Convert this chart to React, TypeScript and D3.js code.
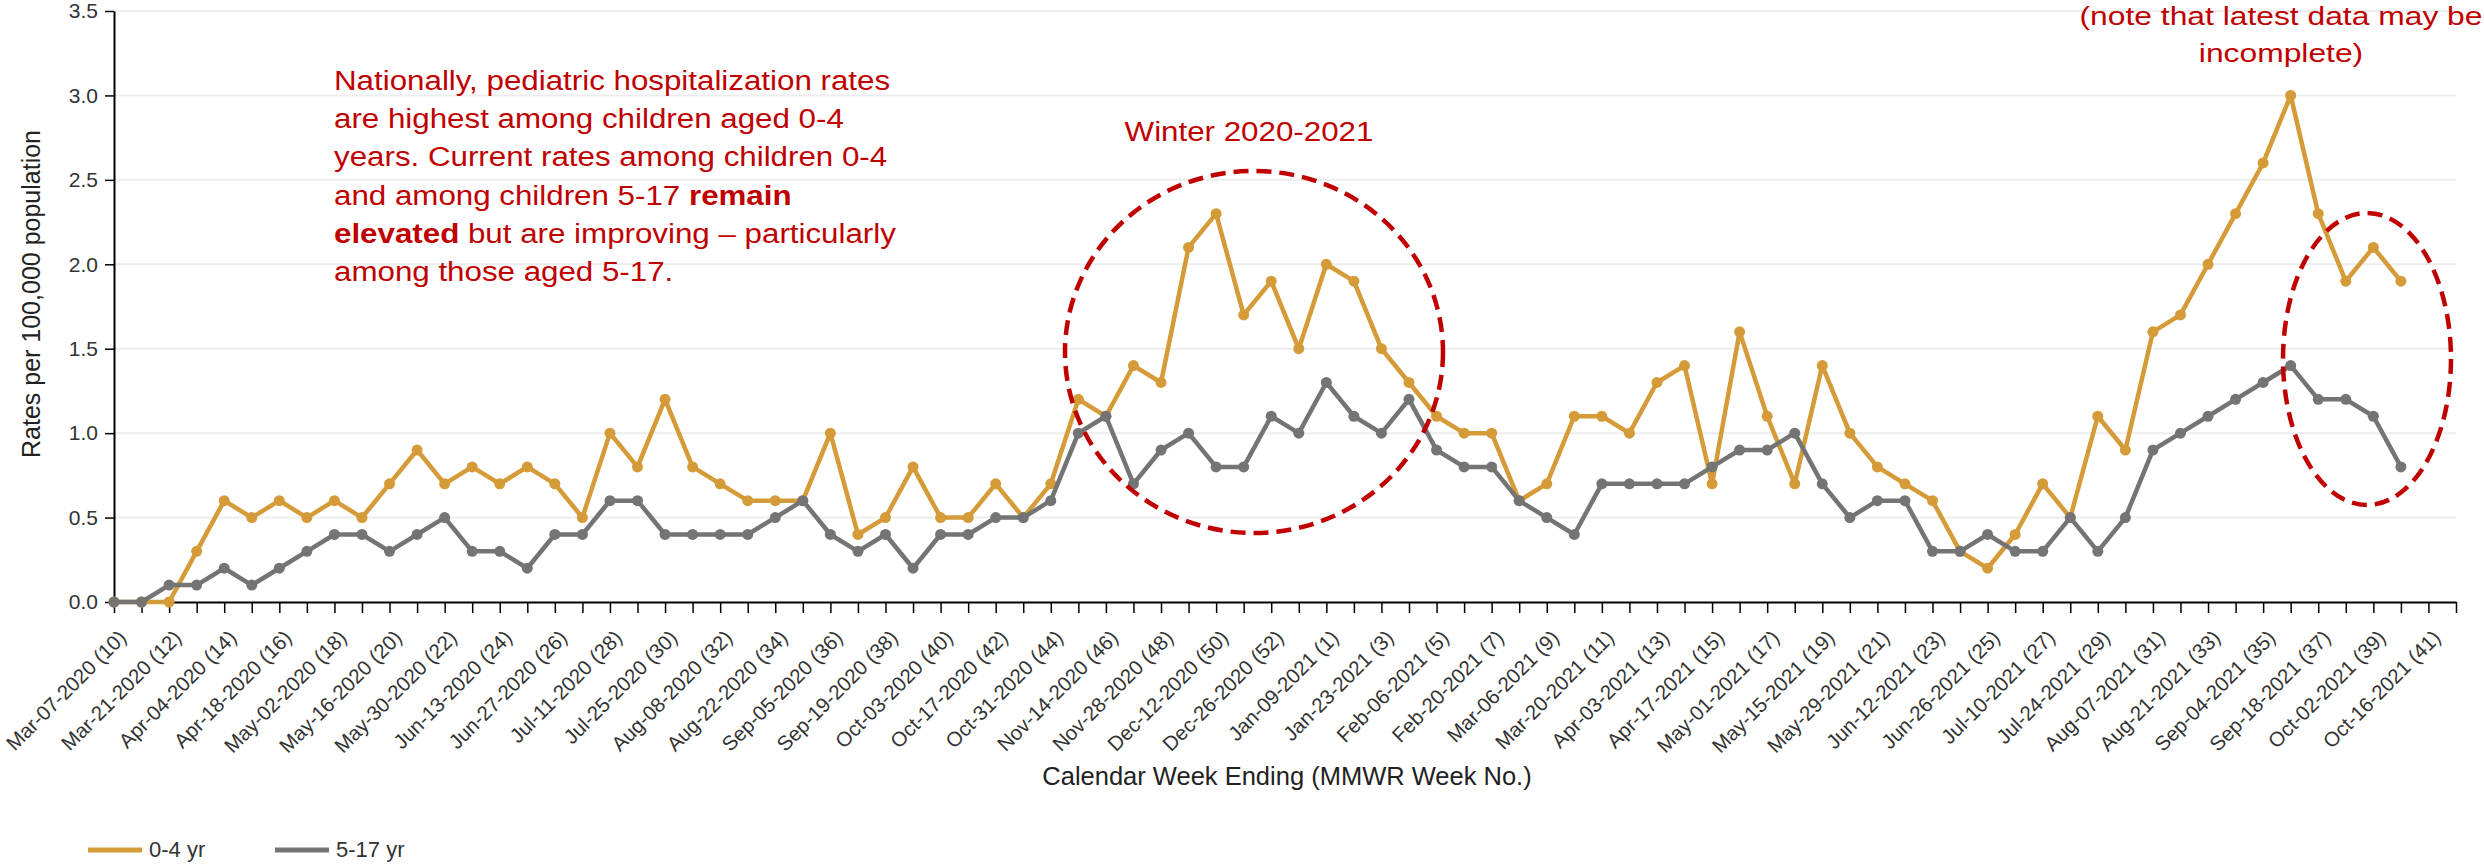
import React, { useEffect, useRef } from "react";
import * as d3 from "d3";

// labels sit on every other week tick
const tickLabels = [
  "Mar-07-2020 (10)", "Mar-21-2020 (12)", "Apr-04-2020 (14)", "Apr-18-2020 (16)",
  "May-02-2020 (18)", "May-16-2020 (20)", "May-30-2020 (22)", "Jun-13-2020 (24)",
  "Jun-27-2020 (26)", "Jul-11-2020 (28)", "Jul-25-2020 (30)", "Aug-08-2020 (32)",
  "Aug-22-2020 (34)", "Sep-05-2020 (36)", "Sep-19-2020 (38)", "Oct-03-2020 (40)",
  "Oct-17-2020 (42)", "Oct-31-2020 (44)", "Nov-14-2020 (46)", "Nov-28-2020 (48)",
  "Dec-12-2020 (50)", "Dec-26-2020 (52)", "Jan-09-2021 (1)", "Jan-23-2021 (3)",
  "Feb-06-2021 (5)", "Feb-20-2021 (7)", "Mar-06-2021 (9)", "Mar-20-2021 (11)",
  "Apr-03-2021 (13)", "Apr-17-2021 (15)", "May-01-2021 (17)", "May-15-2021 (19)",
  "May-29-2021 (21)", "Jun-12-2021 (23)", "Jun-26-2021 (25)", "Jul-10-2021 (27)",
  "Jul-24-2021 (29)", "Aug-07-2021 (31)", "Aug-21-2021 (33)", "Sep-04-2021 (35)",
  "Sep-18-2021 (37)", "Oct-02-2021 (39)", "Oct-16-2021 (41)",
];

// weekly rates, starting week ending Mar-07-2020
const rate0to4 = [
  0, 0, 0, 0.3, 0.6, 0.5, 0.6, 0.5, 0.6, 0.5,
  0.7, 0.9, 0.7, 0.8, 0.7, 0.8, 0.7, 0.5, 1.0, 0.8,
  1.2, 0.8, 0.7, 0.6, 0.6, 0.6, 1.0, 0.4, 0.5, 0.8,
  0.5, 0.5, 0.7, 0.5, 0.7, 1.2, 1.1, 1.4, 1.3, 2.1,
  2.3, 1.7, 1.9, 1.5, 2.0, 1.9, 1.5, 1.3, 1.1, 1.0,
  1.0, 0.6, 0.7, 1.1, 1.1, 1.0, 1.3, 1.4, 0.7, 1.6,
  1.1, 0.7, 1.4, 1.0, 0.8, 0.7, 0.6, 0.3, 0.2, 0.4,
  0.7, 0.5, 1.1, 0.9, 1.6, 1.7, 2.0, 2.3, 2.6, 3.0,
  2.3, 1.9, 2.1, 1.9,
];

const rate5to17 = [
  0, 0, 0.1, 0.1, 0.2, 0.1, 0.2, 0.3, 0.4, 0.4,
  0.3, 0.4, 0.5, 0.3, 0.3, 0.2, 0.4, 0.4, 0.6, 0.6,
  0.4, 0.4, 0.4, 0.4, 0.5, 0.6, 0.4, 0.3, 0.4, 0.2,
  0.4, 0.4, 0.5, 0.5, 0.6, 1.0, 1.1, 0.7, 0.9, 1.0,
  0.8, 0.8, 1.1, 1.0, 1.3, 1.1, 1.0, 1.2, 0.9, 0.8,
  0.8, 0.6, 0.5, 0.4, 0.7, 0.7, 0.7, 0.7, 0.8, 0.9,
  0.9, 1.0, 0.7, 0.5, 0.6, 0.6, 0.3, 0.3, 0.4, 0.3,
  0.3, 0.5, 0.3, 0.5, 0.9, 1.0, 1.1, 1.2, 1.3, 1.4,
  1.2, 1.2, 1.1, 0.8,
];

const yTicks = [0, 0.5, 1, 1.5, 2, 2.5, 3, 3.5];
const weekCount = 86; // axis runs two weeks past the last reported point

const seriesList = [
  { name: "0-4 yr", values: rate0to4, color: "#d49b38" },
  { name: "5-17 yr", values: rate5to17, color: "#747474" },
];

const noteLines = [
  [{ t: "Nationally, pediatric hospitalization rates" }],
  [{ t: "are highest among children aged 0-4" }],
  [{ t: "years. Current rates among children 0-4" }],
  [{ t: "and among children 5-17 " }, { t: "remain", b: true }],
  [{ t: "elevated", b: true }, { t: " but are improving \u2013 particularly" }],
  [{ t: "among those aged 5-17." }],
];

const latestNote = ["(note that latest data may be", "incomplete)"];

const FONT = "'Liberation Sans', Arial, sans-serif";
const RED = "#c00000";

export default function App() {
  const svgRef = useRef(null);

  useEffect(() => {
    const width = 2484;
    const height = 864;
    const svg = d3.select(svgRef.current);
    svg.selectAll("*").remove();
    svg.attr("width", width).attr("height", height).style("font-family", FONT);

    const x = d3.scaleLinear().domain([0, weekCount - 1]).range([114, 2456]);
    const y = d3.scaleLinear().domain([0, 3.5]).range([602, 11]);

    // horizontal grid
    svg
      .append("g")
      .selectAll("line")
      .data(yTicks.filter((t) => t > 0))
      .enter()
      .append("line")
      .attr("x1", x(0))
      .attr("x2", x(weekCount - 1))
      .attr("y1", (d) => y(d))
      .attr("y2", (d) => y(d))
      .attr("stroke", "#ededed")
      .attr("stroke-width", 2);

    // y axis
    const yAxisGroup = svg
      .append("g")
      .attr("transform", `translate(${x(0)},0)`)
      .call(
        d3
          .axisLeft(y)
          .tickValues(yTicks)
          .tickSize(9)
          .tickSizeOuter(0)
          .tickPadding(7)
          .tickFormat(d3.format(".1f"))
      );
    yAxisGroup.select(".domain").attr("stroke", "#000").attr("stroke-width", 2);
    yAxisGroup.selectAll("line").attr("stroke", "#000").attr("stroke-width", 1.5);
    yAxisGroup
      .selectAll("text")
      .style("font-size", "21px")
      .style("font-family", FONT)
      .attr("fill", "#333");

    // x axis, one tick per week
    const xAxisGroup = svg
      .append("g")
      .attr("transform", `translate(0,${y(0)})`)
      .call(
        d3
          .axisBottom(x)
          .tickValues(d3.range(weekCount))
          .tickSize(11)
          .tickSizeOuter(0)
          .tickFormat((i) => (i % 2 === 0 && tickLabels[i / 2]) || "")
      );
    xAxisGroup.select(".domain").attr("stroke", "#000").attr("stroke-width", 2);
    xAxisGroup.selectAll("line").attr("stroke", "#000").attr("stroke-width", 1.5);
    xAxisGroup
      .selectAll("text")
      .attr("x", 0)
      .attr("y", 0)
      .attr("dy", 0)
      .attr("text-anchor", "end")
      .attr("transform", "translate(13,37) rotate(-45)")
      .style("font-size", "20.5px")
      .style("font-family", FONT)
      .attr("fill", "#333");

    // axis titles
    svg
      .append("text")
      .attr("transform", "translate(40,294) rotate(-90)")
      .attr("text-anchor", "middle")
      .style("font-size", "25px")
      .attr("fill", "#222")
      .text("Rates per 100,000 population");

    svg
      .append("text")
      .attr("x", 1287)
      .attr("y", 785)
      .attr("text-anchor", "middle")
      .style("font-size", "25.5px")
      .attr("fill", "#222")
      .text("Calendar Week Ending (MMWR Week No.)");

    // series
    const line = d3
      .line()
      .x((d, i) => x(i))
      .y((d) => y(d));

    seriesList.forEach((s) => {
      svg
        .append("path")
        .datum(s.values)
        .attr("d", line)
        .attr("fill", "none")
        .attr("stroke", s.color)
        .attr("stroke-width", 4.5)
        .attr("stroke-linejoin", "round");
      svg
        .append("g")
        .selectAll("circle")
        .data(s.values)
        .enter()
        .append("circle")
        .attr("cx", (d, i) => x(i))
        .attr("cy", (d) => y(d))
        .attr("r", 5.5)
        .attr("fill", s.color);
    });

    // dashed callout ellipses
    svg
      .append("ellipse")
      .attr("cx", 1254)
      .attr("cy", 352)
      .attr("rx", 189)
      .attr("ry", 181)
      .attr("fill", "none")
      .attr("stroke", RED)
      .attr("stroke-width", 4.5)
      .attr("stroke-dasharray", "15 8");

    svg
      .append("ellipse")
      .attr("cx", 2367)
      .attr("cy", 359)
      .attr("rx", 84)
      .attr("ry", 146)
      .attr("fill", "none")
      .attr("stroke", RED)
      .attr("stroke-width", 4.5)
      .attr("stroke-dasharray", "15 8");

    // red annotations (text in the source is a bit wide, hence scale)
    const stretch = 1.16;
    noteLines.forEach((segs, i) => {
      const t = svg
        .append("text")
        .attr("transform", `translate(334,${90 + i * 38.2}) scale(${stretch},1)`)
        .style("font-size", "27px")
        .attr("fill", RED);
      segs.forEach((sg) => {
        t.append("tspan")
          .style("font-weight", sg.b ? "bold" : "normal")
          .text(sg.t);
      });
    });

    svg
      .append("text")
      .attr("transform", `translate(1249,141) scale(${stretch},1)`)
      .attr("text-anchor", "middle")
      .style("font-size", "27px")
      .attr("fill", RED)
      .text("Winter 2020-2021");

    latestNote.forEach((txt, i) => {
      svg
        .append("text")
        .attr("transform", `translate(2281,${25 + i * 36.7}) scale(1.2,1)`)
        .attr("text-anchor", "middle")
        .style("font-size", "26.5px")
        .attr("fill", RED)
        .text(txt);
    });

    // legend
    const legendX = [88, 275];
    seriesList.forEach((s, i) => {
      const g = svg.append("g").attr("transform", `translate(${legendX[i]},850)`);
      g.append("line")
        .attr("x1", 0)
        .attr("x2", 54)
        .attr("stroke", s.color)
        .attr("stroke-width", 5);
      g.append("text")
        .attr("x", 61)
        .attr("y", 7)
        .style("font-size", "22px")
        .attr("fill", "#333")
        .text(s.name);
    });
  }, []);

  return (
    <svg
      ref={svgRef}
      style={{ position: "absolute", left: 0, top: 0, display: "block" }}
    ></svg>
  );
}
